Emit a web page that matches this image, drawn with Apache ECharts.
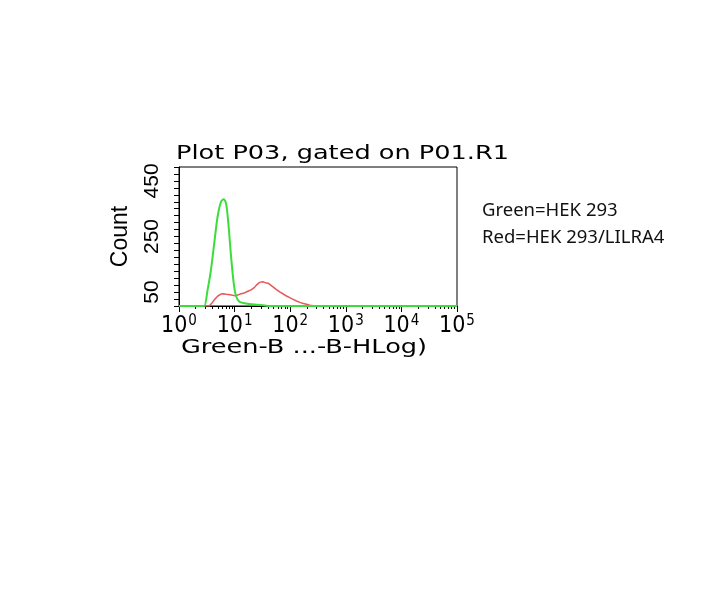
<!DOCTYPE html>
<html>
<head>
<meta charset="utf-8">
<script src="https://cdn.jsdelivr.net/npm/echarts@6/dist/echarts.min.js"></script>
<style>
html, body { margin: 0; padding: 0; background: #ffffff; }
#chart { width: 710px; height: 599px; }
</style>
</head>
<body>
<div id="chart"></div>
<script>
// histogram readings (channel value on log axis, event count)
var greenX = [1, 2.5, 2.84, 3.26, 3.75, 4.31, 4.94, 5.69, 6.35, 7.02, 7.72, 8.65, 9.64, 10.6, 12.2, 15.1, 22.8, 34.7, 42.7, 100000];
var greenCount = [0, 0, 0, 57, 129, 227, 321, 375, 384, 369, 297, 177, 82, 36, 15, 10, 5, 2, 0, 0];

var redX = [1, 3.5, 3.96, 4.3, 4.62, 5.0, 5.69, 6.2, 7.02, 7.8, 8.65, 9.6, 10.6, 11.8, 13.1, 15.0, 17.3, 19.8, 22.8, 25.5, 28.1, 30, 32.3, 35.5, 39.8, 44, 49, 56, 64.6, 74, 85.7, 98, 113, 130, 149, 172, 197, 225, 260, 316, 100000];
var redCount = [0, 0, 12, 22, 29, 36, 43, 44, 42, 41, 40, 38, 37, 41, 44, 47, 53, 58, 67, 78, 85, 83, 87, 84, 82, 76, 69, 60, 51, 44, 36, 30, 24, 18, 13, 9, 6, 3, 1, 0, 0];

var yLabels = [50, 250, 450];
var legendLines = ['Green=HEK 293', 'Red=HEK 293/LILRA4'];

function pairs(xs, ys) {
    var out = [];
    for (var i = 0; i < xs.length; i++) {
        out.push([xs[i], ys[i]]);
    }
    return out;
}

var myChart = echarts.init(document.getElementById('chart'));
var option = {
    animation: false,
    grid: {
        left: 179,
        right: 253,
        top: 167,
        bottom: 293,
        show: true,
        borderColor: '#000000',
        borderWidth: 1
    },
    graphic: [
        {
            type: 'text',
            left: 176,
            top: 144,
            scaleX: 1.28,
            style: {
                text: 'Plot P03, gated on P01.R1',
                font: '20px "DejaVu Sans"',
                fill: '#000000'
            }
        },
        {
            type: 'text',
            left: 181,
            top: 338,
            scaleX: 1.28,
            style: {
                text: 'Green-B ...-B-HLog)',
                font: '20px "DejaVu Sans"',
                fill: '#000000'
            }
        },
        {
            type: 'text',
            left: 482,
            top: 201,
            style: {
                text: legendLines[0],
                font: '18.5px "Noto Sans"',
                fill: '#111111'
            }
        },
        {
            type: 'text',
            left: 482,
            top: 228,
            style: {
                text: legendLines[1],
                font: '18.5px "Noto Sans"',
                fill: '#111111'
            }
        }
    ],
    xAxis: {
        type: 'log',
        logBase: 10,
        min: 1,
        max: 100000,
        axisLine: {
            lineStyle: { color: '#000000', width: 1 }
        },
        axisTick: {
            length: 6,
            lineStyle: { color: '#000000' }
        },
        minorTick: {
            show: true,
            splitNumber: 9,
            length: 3,
            lineStyle: { color: '#000000' }
        },
        splitLine: { show: false },
        axisLabel: {
            margin: 8,
            formatter: function (v) {
                return '{b|10}{s|' + Math.round(Math.log10(v)) + '}';
            },
            rich: {
                b: {
                    fontSize: 23,
                    fontFamily: '"DejaVu Sans Condensed", "DejaVu Sans"',
                    color: '#000000',
                    lineHeight: 24
                },
                s: {
                    fontSize: 15,
                    fontFamily: '"DejaVu Sans Condensed", "DejaVu Sans"',
                    color: '#000000',
                    verticalAlign: 'top',
                    lineHeight: 14,
                    padding: [0, 0, 12, 1]
                }
            }
        }
    },
    yAxis: {
        type: 'value',
        min: 0,
        max: 500,
        interval: 50,
        name: 'Count',
        nameLocation: 'middle',
        nameRotate: 90,
        nameGap: 47,
        nameTextStyle: {
            fontSize: 23,
            fontFamily: '"Liberation Sans", Arial',
            color: '#000000'
        },
        axisLine: {
            show: true,
            lineStyle: { color: '#000000', width: 1 }
        },
        axisTick: {
            length: 5,
            lineStyle: { color: '#000000' }
        },
        minorTick: {
            show: true,
            splitNumber: 2,
            length: 5,
            lineStyle: { color: '#000000' }
        },
        splitLine: { show: false },
        axisLabel: {
            rotate: 90,
            margin: 16,
            fontSize: 21,
            fontFamily: '"Liberation Sans", Arial',
            color: '#000000',
            formatter: function (v) {
                return yLabels.indexOf(v) >= 0 ? String(v) : '';
            }
        }
    },
    series: [
        {
            name: 'Red=HEK 293/LILRA4',
            type: 'line',
            showSymbol: false,
            data: pairs(redX, redCount),
            lineStyle: { color: '#e45858', width: 1.5 },
            z: 2
        },
        {
            name: 'Green=HEK 293',
            type: 'line',
            showSymbol: false,
            smooth: 0.3,
            data: pairs(greenX, greenCount),
            lineStyle: { color: '#3ddc3d', width: 2 },
            z: 3
        }
    ]
};
myChart.setOption(option);
window.addEventListener('resize', function () { myChart.resize(); });
</script>
</body>
</html>
